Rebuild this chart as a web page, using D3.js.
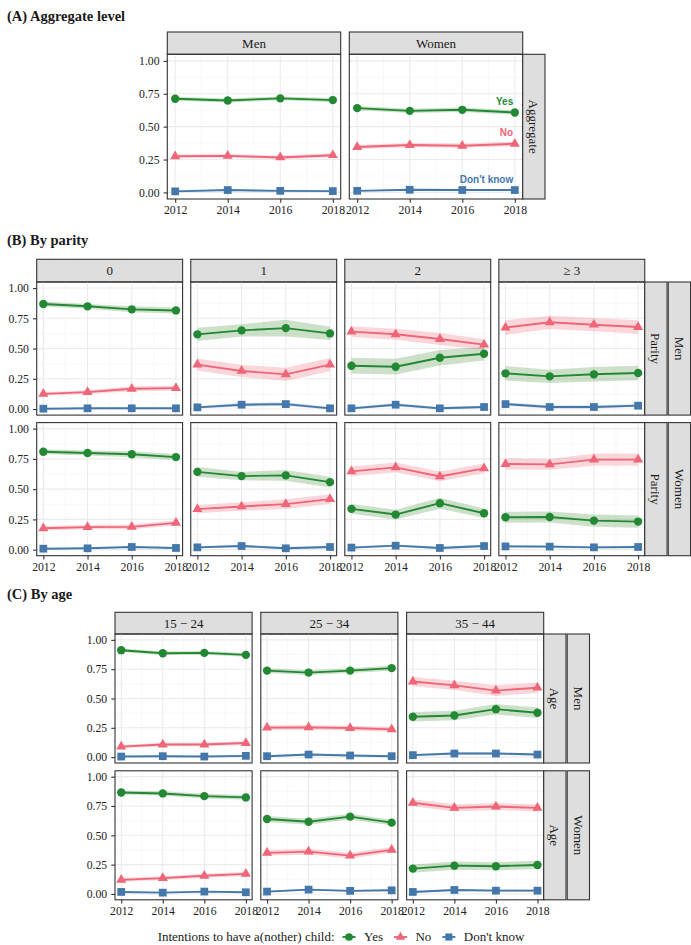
<!DOCTYPE html>
<html lang="en">
<head>
<meta charset="UTF-8">
<title>Fertility intentions</title>
<script src="https://cdn.jsdelivr.net/npm/d3@7"></script>
<style>
	body {
		margin: 0;
		background: #fff;
	}

	svg text {
		font-family: "Liberation Serif", "Times New Roman", serif;
		fill: #1a1a1a;
	}

	.title {
		font-weight: bold;
		font-size: 14.5px;
	}

	.strip-text {
		font-size: 13px;
	}

	.end-label {
		font-family: "Liberation Sans", Arial, sans-serif !important;
		font-weight: bold;
		font-size: 10px;
	}
</style>
</head>
<body>
<div id="viz"></div>
<script>
// ---- data ----
const years = [2012, 2014, 2016, 2018];
const outcomes = ['Yes', 'No', "Don't know"];
const sexes = ['Men', 'Women'];
const parityLevels = ['0', '1', '2', '\u2265 3'];
const ageGroups = ['15 \u2212 24', '25 \u2212 34', '35 \u2212 44'];
const yTicks = [0, 0.25, 0.5, 0.75, 1];

// (A) aggregate, [sex][year]
const aggYes = [[0.712, 0.699, 0.715, 0.702], [0.641, 0.620, 0.628, 0.608]];
const aggNo = [[0.275, 0.278, 0.266, 0.283], [0.345, 0.360, 0.355, 0.370]];
const aggDk = [[0.008, 0.018, 0.012, 0.010], [0.012, 0.020, 0.018, 0.018]];
// half-width of the confidence band
const aggYesCI = [[0.015, 0.015, 0.015, 0.015], [0.016, 0.016, 0.017, 0.017]];
const aggNoCI = [[0.014, 0.014, 0.014, 0.015], [0.016, 0.016, 0.016, 0.017]];
const aggDkCI = [[0.004, 0.005, 0.005, 0.004], [0.004, 0.005, 0.005, 0.005]];

// (B) parity, [sex][parity][year]
const parityYes = [
	[[0.868, 0.849, 0.824, 0.815], [0.617, 0.650, 0.669, 0.625], [0.358, 0.350, 0.424, 0.457], [0.295, 0.270, 0.287, 0.298]],
	[[0.809, 0.799, 0.788, 0.765], [0.643, 0.608, 0.614, 0.558], [0.337, 0.290, 0.384, 0.301], [0.268, 0.270, 0.240, 0.232]]
];
const parityNo = [
	[[0.125, 0.140, 0.168, 0.173], [0.367, 0.315, 0.287, 0.367], [0.640, 0.618, 0.579, 0.532], [0.673, 0.717, 0.697, 0.678]],
	[[0.177, 0.186, 0.188, 0.221], [0.335, 0.357, 0.376, 0.418], [0.647, 0.680, 0.605, 0.672], [0.708, 0.705, 0.744, 0.744]]
];
const parityDk = [
	[[0.003, 0.006, 0.006, 0.006], [0.014, 0.036, 0.041, 0.006], [0.006, 0.036, 0.006, 0.017], [0.041, 0.017, 0.017, 0.028]],
	[[0.008, 0.011, 0.022, 0.014], [0.019, 0.030, 0.011, 0.022], [0.017, 0.033, 0.014, 0.030], [0.027, 0.025, 0.019, 0.022]]
];
const parityYesCI = [
	[[0.020, 0.020, 0.025, 0.025], [0.055, 0.050, 0.070, 0.055], [0.065, 0.065, 0.065, 0.055], [0.060, 0.055, 0.060, 0.060]],
	[[0.020, 0.020, 0.025, 0.025], [0.040, 0.035, 0.045, 0.045], [0.040, 0.040, 0.045, 0.040], [0.045, 0.045, 0.050, 0.050]]
];
const parityNoCI = [
	[[0.015, 0.015, 0.020, 0.020], [0.050, 0.050, 0.055, 0.055], [0.045, 0.045, 0.050, 0.045], [0.060, 0.055, 0.055, 0.055]],
	[[0.018, 0.018, 0.020, 0.022], [0.035, 0.035, 0.040, 0.040], [0.040, 0.040, 0.040, 0.040], [0.045, 0.045, 0.050, 0.050]]
];
const parityDkCI = [
	[[0.004, 0.005, 0.005, 0.005], [0.010, 0.015, 0.015, 0.010], [0.010, 0.012, 0.010, 0.010], [0.015, 0.012, 0.012, 0.012]],
	[[0.005, 0.005, 0.006, 0.006], [0.010, 0.010, 0.010, 0.010], [0.010, 0.010, 0.010, 0.010], [0.012, 0.012, 0.010, 0.010]]
];

// (C) age, [sex][age group][year]
const ageYes = [
	[[0.912, 0.886, 0.889, 0.872], [0.738, 0.721, 0.738, 0.759], [0.344, 0.355, 0.409, 0.378]],
	[[0.865, 0.857, 0.834, 0.823], [0.639, 0.616, 0.659, 0.608], [0.216, 0.241, 0.236, 0.247]]
];
const ageNo = [
	[[0.090, 0.108, 0.108, 0.120], [0.252, 0.254, 0.248, 0.237], [0.645, 0.612, 0.567, 0.592]],
	[[0.120, 0.135, 0.155, 0.171], [0.350, 0.361, 0.327, 0.376], [0.777, 0.734, 0.745, 0.734]]
];
const ageDk = [
	[[0.005, 0.008, 0.005, 0.011], [0.008, 0.022, 0.014, 0.008], [0.017, 0.031, 0.031, 0.022]],
	[[0.017, 0.011, 0.020, 0.014], [0.020, 0.037, 0.026, 0.031], [0.017, 0.034, 0.028, 0.028]]
];
const ageYesCI = [
	[[0.015, 0.015, 0.015, 0.016], [0.020, 0.020, 0.020, 0.022], [0.040, 0.040, 0.045, 0.045]],
	[[0.018, 0.018, 0.020, 0.020], [0.025, 0.025, 0.025, 0.025], [0.035, 0.035, 0.035, 0.035]]
];
const ageNoCI = [
	[[0.014, 0.015, 0.015, 0.016], [0.020, 0.020, 0.020, 0.020], [0.040, 0.040, 0.045, 0.045]],
	[[0.016, 0.016, 0.018, 0.018], [0.025, 0.025, 0.025, 0.025], [0.030, 0.030, 0.030, 0.030]]
];
const ageDkCI = [
	[[0.004, 0.005, 0.004, 0.005], [0.006, 0.008, 0.007, 0.006], [0.010, 0.010, 0.010, 0.010]],
	[[0.005, 0.005, 0.006, 0.005], [0.007, 0.008, 0.007, 0.007], [0.008, 0.009, 0.009, 0.009]]
];

// ---- styling ----
const lineColor = ['#228833', '#EE6677', '#4477AA'];
const bandColor = ['#3f8a34', '#EE6677', '#4477AA'];
const symbolType = [d3.symbolCircle, d3.symbolTriangle, d3.symbolSquare];
const symbolSize = [55, 44, 60];
const ink = '#333333';

const svg = d3.select('#viz')
	.append('svg')
	.attr('width', 691)
	.attr('height', 945);

// each section: facet layout in pixels
const sections = [
	{
		title: '(A) Aggregate level', titleY: 20.5,
		cols: sexes, colLefts: [167.3, 349.3], panelW: 173.4,
		stripTop: 32, stripH: 22.3,
		rowTops: [54.3], rowH: 144.7,
		rowStrips: [['Aggregate']],
		series: (r, c) => [
			{v: aggYes[c], ci: aggYesCI[c]},
			{v: aggNo[c], ci: aggNoCI[c]},
			{v: aggDk[c], ci: aggDkCI[c]}
		]
	},
	{
		title: '(B) By parity', titleY: 245,
		cols: parityLevels, colLefts: [36.7, 190.75, 344.8, 498.85], panelW: 145.9,
		stripTop: 259.3, stripH: 22.7,
		rowTops: [282, 422.6], rowH: 133.1,
		rowStrips: [['Parity', 'Parity'], sexes],
		series: (r, c) => [
			{v: parityYes[r][c], ci: parityYesCI[r][c]},
			{v: parityNo[r][c], ci: parityNoCI[r][c]},
			{v: parityDk[r][c], ci: parityDkCI[r][c]}
		]
	},
	{
		title: '(C) By age', titleY: 599,
		cols: ageGroups, colLefts: [115, 260.8, 406.6], panelW: 137.1,
		stripTop: 612.3, stripH: 21.7,
		rowTops: [634, 770.8], rowH: 129,
		rowStrips: [['Age', 'Age'], sexes],
		series: (r, c) => [
			{v: ageYes[r][c], ci: ageYesCI[r][c]},
			{v: ageNo[r][c], ci: ageNoCI[r][c]},
			{v: ageDk[r][c], ci: ageDkCI[r][c]}
		]
	}
];

function styleAxis(ga) {
	ga.attr('font-family', null).attr('font-size', null);
	ga.select('.domain').remove();
	ga.selectAll('line').attr('stroke', ink).attr('stroke-width', 1.1);
	ga.selectAll('text').style('font-size', '11.7px').style('fill', '#222');
}

function drawPanel(g, x, y, series) {
	let [x0, x1] = x.range(), [y0, y1] = y.range();

	// grid
	let minorX = [2013, 2015, 2017], minorY = [0.125, 0.375, 0.625, 0.875];
	g.selectAll('.gminx').data(minorX).join('line')
		.attr('x1', d => x(d)).attr('x2', d => x(d)).attr('y1', y0).attr('y2', y1)
		.attr('stroke', '#f4f4f4').attr('stroke-width', 0.6);
	g.selectAll('.gminy').data(minorY).join('line')
		.attr('y1', d => y(d)).attr('y2', d => y(d)).attr('x1', x0).attr('x2', x1)
		.attr('stroke', '#f4f4f4').attr('stroke-width', 0.6);
	g.append('g').selectAll('line').data(years).join('line')
		.attr('x1', d => x(d)).attr('x2', d => x(d)).attr('y1', y0).attr('y2', y1)
		.attr('stroke', '#ebebeb').attr('stroke-width', 1.1);
	g.append('g').selectAll('line').data(yTicks).join('line')
		.attr('y1', d => y(d)).attr('y2', d => y(d)).attr('x1', x0).attr('x2', x1)
		.attr('stroke', '#ebebeb').attr('stroke-width', 1.1);

	let band = d3.area()
		.x((d, i) => x(years[i]))
		.y0(d => y(d[0] - d[1]))
		.y1(d => y(d[0] + d[1]));
	let line = d3.line()
		.x((d, i) => x(years[i]))
		.y(d => y(d));

	series.forEach((s, k) => {
		g.append('path')
			.datum(s.v.map((v, i) => [v, s.ci[i]]))
			.attr('d', band)
			.attr('fill', bandColor[k])
			.attr('fill-opacity', 0.26);
	});
	series.forEach((s, k) => {
		g.append('path')
			.datum(s.v)
			.attr('d', line)
			.attr('fill', 'none')
			.attr('stroke', lineColor[k])
			.attr('stroke-width', 1.9);
		g.append('g').selectAll('path').data(s.v).join('path')
			.attr('transform', (d, i) => 'translate(' + x(years[i]) + ',' + y(d) + ')')
			.attr('d', d3.symbol().type(symbolType[k]).size(symbolSize[k]))
			.attr('fill', lineColor[k]);
	});

	g.append('rect')
		.attr('x', x0).attr('y', y1)
		.attr('width', x1 - x0).attr('height', y0 - y1)
		.attr('fill', 'none').attr('stroke', ink).attr('stroke-width', 1.1);
}

sections.forEach((sec, si) => {
	let root = svg.append('g').attr('class', 'section');

	root.append('text')
		.attr('class', 'title')
		.attr('x', 7)
		.attr('y', sec.titleY)
		.text(sec.title);

	// column strips
	sec.cols.forEach((lab, c) => {
		let sx = sec.colLefts[c];
		root.append('rect')
			.attr('x', sx).attr('y', sec.stripTop)
			.attr('width', sec.panelW).attr('height', sec.stripH)
			.attr('fill', '#dedede').attr('stroke', ink).attr('stroke-width', 1.1);
		root.append('text')
			.attr('class', 'strip-text')
			.attr('x', sx + sec.panelW / 2)
			.attr('y', sec.stripTop + sec.stripH / 2)
			.attr('dy', '0.35em')
			.attr('text-anchor', 'middle')
			.text(lab);
	});

	let nCol = sec.cols.length;
	let rightEdge = sec.colLefts[nCol - 1] + sec.panelW;

	sec.rowTops.forEach((top, r) => {
		let bottom = top + sec.rowH;
		let y = d3.scaleLinear().domain([-0.05, 1.05]).range([bottom, top]);

		sec.cols.forEach((lab, c) => {
			let left = sec.colLefts[c];
			let x = d3.scaleLinear().domain([2011.7, 2018.3]).range([left, left + sec.panelW]);
			let g = root.append('g');
			drawPanel(g, x, y, sec.series(r, c));

			if (c === 0) {
				root.append('g')
					.attr('transform', 'translate(' + left + ',0)')
					.call(d3.axisLeft(y).tickValues(yTicks).tickFormat(d3.format('.2f')).tickSize(3.7).tickPadding(4.1))
					.call(styleAxis);
			}
			if (r === sec.rowTops.length - 1) {
				root.append('g')
					.attr('transform', 'translate(0,' + bottom + ')')
					.call(d3.axisBottom(x).tickValues(years).tickFormat(d3.format('d')).tickSize(3.7).tickPadding(3.3))
					.call(styleAxis);
			}

			// direct labels in the aggregate Women panel
			if (si === 0 && c === 1) {
				outcomes.forEach((o, k) => {
					let s = sec.series(r, c)[k];
					root.append('text')
						.attr('class', 'end-label')
						.attr('x', x(years[3]) - 1.6)
						.attr('y', y(s.v[3]) - 7.3)
						.attr('text-anchor', 'end')
						.style('fill', lineColor[k])
						.text(o);
				});
			}
		});

		// row strips on the right
		sec.rowStrips.forEach((labs, j) => {
			let sx = rightEdge + j * 23.5;
			root.append('rect')
				.attr('x', sx).attr('y', top)
				.attr('width', 22.3).attr('height', sec.rowH)
				.attr('fill', '#dedede').attr('stroke', ink).attr('stroke-width', 1.1);
			root.append('text')
				.attr('class', 'strip-text')
				.attr('transform', 'translate(' + (sx + 11.15) + ',' + (top + sec.rowH / 2) + ') rotate(90)')
				.attr('dy', '0.35em')
				.attr('text-anchor', 'middle')
				.text(labs[r]);
		});
	});
});

// ---- legend ----
let legend = svg.append('g').attr('class', 'legend');
let legY = 937;
let lt = legend.append('text')
	.attr('x', 0).attr('y', legY)
	.attr('dy', '0.32em')
	.style('font-size', '13px')
	.text('Intentions to have a(nother) child:');
let cursor = lt.node().getComputedTextLength() + 14.5;
outcomes.forEach((o, k) => {
	legend.append('line')
		.attr('x1', cursor - 6.5).attr('x2', cursor + 6.5)
		.attr('y1', legY).attr('y2', legY)
		.attr('stroke', lineColor[k]).attr('stroke-width', 1.9);
	legend.append('path')
		.attr('transform', 'translate(' + cursor + ',' + legY + ')')
		.attr('d', d3.symbol().type(symbolType[k]).size(symbolSize[k] * 0.85))
		.attr('fill', lineColor[k]);
	let t = legend.append('text')
		.attr('x', cursor + 15).attr('y', legY)
		.attr('dy', '0.32em')
		.style('font-size', '13px')
		.text(o);
	cursor = cursor + 15 + t.node().getComputedTextLength() + 17.5;
});
let legW = cursor - 17.5;
legend.attr('transform', 'translate(' + (341 - legW / 2) + ',0)');
</script>
</body>
</html>
